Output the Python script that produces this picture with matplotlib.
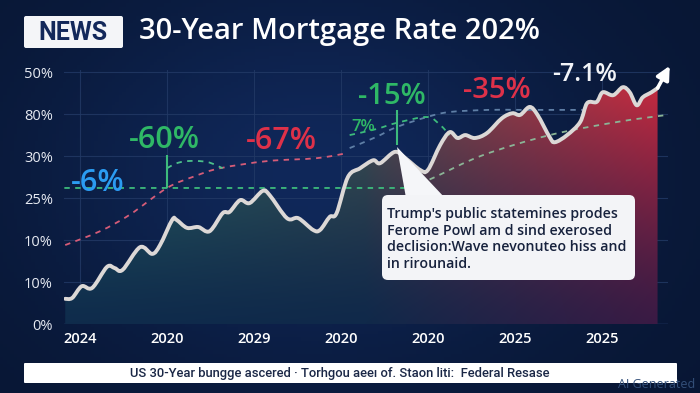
#!/usr/bin/env python3
"""30-year mortgage rate news graphic: wavy rate line with gradient fill."""

import matplotlib

matplotlib.use("Agg")
import matplotlib.pyplot as plt
import numpy as np
from matplotlib.colors import to_rgb
from matplotlib.patches import FancyBboxPatch, PathPatch, Polygon
from matplotlib.path import Path

plt.rcParams["font.family"] = ["Open Sans", "DejaVu Sans"]

# --- data -------------------------------------------------------------------
X_TICK_LABELS = ["2024", "2020", "2029", "2020", "2020", "2025", "2025"]
Y_TICK_LABELS = ["0%", "10%", "10%", "25%", "30%", "80%", "50%"]

# main rate line (x in tick units, y in gridline units)
RATE_X = [-0.17, -0.09, 0.02, 0.14, 0.31, 0.40, 0.49, 0.69, 0.83, 0.92,
          1.06, 1.11, 1.23, 1.36, 1.49, 1.64, 1.72, 1.84, 1.95, 2.10,
          2.18, 2.38, 2.51, 2.68, 2.76, 2.87, 2.95, 3.08, 3.22, 3.37,
          3.45, 3.62, 3.74, 3.91, 4.00, 4.14, 4.25, 4.34, 4.43, 4.54,
          4.68, 4.85, 4.97, 5.06, 5.17, 5.26, 5.40, 5.46, 5.60, 5.75,
          5.83, 5.94, 6.01, 6.13, 6.24, 6.32, 6.40, 6.47, 6.57, 6.64]
RATE_Y = [0.60, 0.62, 0.90, 0.86, 1.36, 1.33, 1.29, 1.83, 1.67, 1.88,
          2.48, 2.48, 2.29, 2.31, 2.21, 2.64, 2.67, 2.95, 2.88, 3.17,
          3.07, 2.52, 2.52, 2.24, 2.24, 2.55, 2.64, 3.50, 3.71, 3.90,
          3.83, 4.10, 3.95, 3.67, 3.67, 4.26, 4.57, 4.43, 4.50, 4.43,
          4.55, 4.90, 5.02, 4.98, 5.17, 4.98, 4.45, 4.33, 4.50, 4.81,
          5.26, 5.29, 5.52, 5.45, 5.64, 5.52, 5.21, 5.40, 5.52, 5.62]
ARROW_TIP = (6.78, 6.15)

# dashed guide curves
FLAT_X = [-0.18, 3.79]
FLAT_Y = [3.24, 3.24]
PINK_X = [-0.17, 0.23, 0.57, 1.00, 1.32, 1.61, 2.15, 2.72, 3.07]
PINK_Y = [1.88, 2.21, 2.60, 3.24, 3.52, 3.71, 3.88, 3.95, 4.07]
BUMP_X = [1.00, 1.10, 1.23, 1.46, 1.64]
BUMP_Y = [3.71, 3.82, 3.88, 3.86, 3.71]
SLATE_X = [3.10, 3.40, 3.64, 3.99, 4.25, 4.70, 5.06, 5.78]
SLATE_Y = [4.19, 4.45, 4.69, 4.93, 5.05, 5.10, 5.10, 5.10]
HUMP_X = [3.10, 3.40, 3.64, 3.99, 4.14, 4.25]
HUMP_Y = [4.50, 4.64, 4.79, 4.93, 4.74, 4.50]
RISE_X = [3.79, 4.06, 4.63, 5.40, 6.17, 6.75]
RISE_Y = [3.24, 3.48, 4.02, 4.50, 4.81, 4.98]
MARK_X = [1.00, 3.64]
MARK_Y0 = [3.24, 4.26]
MARK_Y1 = [4.02, 5.10]

# change labels
LABELS = ["-6%", "-60%", "-67%", "-15%", "7%", "-35%", "-7.1%"]
LABEL_X = [0.20, 0.97, 2.32, 3.59, 3.26, 4.79, 5.80]
LABEL_Y = [3.36, 4.38, 4.36, 5.43, 4.69, 5.55, 5.95]
LABEL_COLORS = ["#2b9cf2", "#2fb866", "#de3149", "#2fb866", "#2fb866", "#de3149", "#f2f4f8"]
LABEL_SIZES = [22, 22, 22, 21, 12, 21, 18]

TITLE = "30-Year Mortgage Rate 202%"
CALLOUT = ("Trump's public statemines prodes\nFerome Powl am d sind exerosed\n"
           "declision:Wave nevonuteo hiss and\nin rirounaid.")
SOURCE = "US 30-Year bungge ascered · Torhgou aeeı of. Staon liti:  Federal Resase"

W, H = 700, 393
BG = "#0b1c40"


def lerp(c0, c1, t):
    c0, c1 = np.array(to_rgb(c0)), np.array(to_rgb(c1))
    return c0[None, None, :] * (1 - t[..., None]) + c1[None, None, :] * t[..., None]


def smooth_path(xs, ys, close_to=None):
    """Catmull-Rom style cubic Bezier path passing through every point."""
    p = np.column_stack([xs, ys]).astype(float)
    n = len(p)
    verts, codes = [tuple(p[0])], [Path.MOVETO]
    for i in range(n - 1):
        pm = p[max(i - 1, 0)]
        p2 = p[min(i + 2, n - 1)]
        c1 = p[i] + (p[i + 1] - pm) / 6
        c2 = p[i + 1] - (p2 - p[i]) / 6
        verts += [tuple(c1), tuple(c2), tuple(p[i + 1])]
        codes += [Path.CURVE4] * 3
    if close_to is not None:
        verts += [(xs[-1], close_to), (xs[0], close_to), (xs[0], close_to)]
        codes += [Path.LINETO, Path.LINETO, Path.CLOSEPOLY]
    return Path(verts, codes)


def main() -> None:
    fig = plt.figure(figsize=(W / 100, H / 100), dpi=100)
    fig.patch.set_facecolor(BG)

    # background
    bg = fig.add_axes([0, 0, 1, 1], zorder=-5)
    bx = np.linspace(0, 1, 200)[None, :]
    by = np.linspace(0, 1, 120)[:, None]
    glow = np.exp(-((bx - 0.45) ** 2 / 0.15 + (by - 0.45) ** 2 / 0.25))
    img = lerp("#081633", "#10285a", glow)
    bg.imshow(img, extent=[0, 1, 0, 1], aspect="auto")
    bg.axis("off")

    # plot area
    x0, x1 = -0.184, 6.76
    y0, y1 = 0.0, 6.05
    ax = fig.add_axes([64 / W, 69 / H, 604 / W, 254 / H])
    ax.set_facecolor("none")
    for s in ax.spines.values():
        s.set_visible(False)
    ax.set_xticks(range(len(X_TICK_LABELS)))
    ax.set_xticklabels(X_TICK_LABELS, color="white", fontsize=10.5, fontweight="semibold")
    ax.set_yticks(range(len(Y_TICK_LABELS)))
    ax.set_yticklabels(Y_TICK_LABELS, color="#e6eaf2", fontsize=10.5)
    ax.tick_params(length=0, pad=8)
    ax.tick_params(axis="x", pad=6)
    ax.grid(True, color="#233a66", linewidth=0.8, alpha=0.8)
    ax.set_axisbelow(True)
    ax.axhline(0, color="#2a4372", linewidth=1.0, zorder=1)

    # gradient fill under the line
    gx = np.linspace(0, 1, 300)[None, :]
    gy = np.linspace(0, 1, 150)[:, None]
    top_l, top_m, top_r = "#2e7c6f", "#4a5853", "#cc2a3f"
    bot_l, bot_m, bot_r = "#0f2c4c", "#10294a", "#3c1a44"
    tl = np.clip(gx / 0.5, 0, 1)
    tr = np.clip((gx - 0.5) / 0.5, 0, 1)
    top = np.where((gx < 0.5)[..., None], lerp(top_l, top_m, tl ** 1.2), lerp(top_m, top_r, tr ** 0.7))
    bot = np.where((gx < 0.5)[..., None], lerp(bot_l, bot_m, tl), lerp(bot_m, bot_r, tr))
    vt = (gy ** 1.3)[..., None]
    grad = (bot * (1 - vt) + top * vt)[::-1]
    area = PathPatch(smooth_path(RATE_X, RATE_Y, close_to=0), facecolor="none", edgecolor="none")
    ax.add_patch(area)
    im = ax.imshow(grad, extent=[x0, x1, 0, 5.8], aspect="auto", zorder=2, interpolation="bilinear")
    im.set_clip_path(area)
    ax.set_xlim(x0, x1)
    ax.set_ylim(y0, y1)

    # dashed guides
    dash = dict(linewidth=1.3, linestyle=(0, (3, 3)), zorder=3, fill=False)
    for xs, ys, col in [(FLAT_X, FLAT_Y, "#3dbb7c"), (PINK_X, PINK_Y, "#d65c78"),
                        (BUMP_X, BUMP_Y, "#4cc08a"), (SLATE_X, SLATE_Y, "#5f7fa6"),
                        (HUMP_X, HUMP_Y, "#3dbb7c"), (RISE_X, RISE_Y, "#8bb596")]:
        ax.add_patch(PathPatch(smooth_path(xs, ys), edgecolor=col, **dash))
    ax.vlines(MARK_X, MARK_Y0, MARK_Y1, color="#3dbb7c", linewidth=1.5, zorder=3)

    # rate line + arrow
    ax.add_patch(PathPatch(smooth_path(RATE_X, RATE_Y), edgecolor="#dcd8d6", facecolor="none",
                           linewidth=2.8, joinstyle="round", capstyle="round", zorder=5))
    ax.annotate("", xy=ARROW_TIP, xytext=(RATE_X[-1], RATE_Y[-1]),
                arrowprops=dict(arrowstyle="-|>,head_length=0.8,head_width=0.4",
                                color="white", lw=2.6, shrinkA=0, shrinkB=0),
                annotation_clip=False, zorder=6)

    for txt, lx, ly, c, s in zip(LABELS, LABEL_X, LABEL_Y, LABEL_COLORS, LABEL_SIZES):
        ax.text(lx, ly, txt, color=c, fontsize=s, fontweight="semibold",
                ha="center", va="center", zorder=7)

    # overlay in pixel space for title, callout, source banner
    ov = fig.add_axes([0, 0, 1, 1], zorder=10)
    ov.set_xlim(0, W)
    ov.set_ylim(H, 0)
    ov.axis("off")
    ov.patch.set_alpha(0)

    ov.add_patch(FancyBboxPatch((24, 16), 99, 32, boxstyle="round,pad=0,rounding_size=2",
                                facecolor="#f4f5f8", edgecolor="none"))
    ov.text(73, 33, "NEWS", color="#13285a", fontsize=18, fontweight="bold",
            ha="center", va="center", family=["Roboto", "DejaVu Sans"])
    ov.text(139, 32, TITLE, color="white", fontsize=21, fontweight="semibold",
            ha="left", va="center")

    ov.add_patch(Polygon([(397, 147), (406, 198), (445, 198)], closed=True,
                         facecolor="#f5f6f9", edgecolor="none"))
    ov.add_patch(FancyBboxPatch((382, 195), 253, 85, boxstyle="round,pad=0,rounding_size=6",
                                facecolor="#f3f4f7", edgecolor="none"))
    ov.text(387, 239, CALLOUT, color="#17223d", fontsize=10.2, fontweight="semibold",
            ha="left", va="center", linespacing=1.25)

    ov.add_patch(FancyBboxPatch((24, 363), 653, 20, boxstyle="round,pad=0,rounding_size=1",
                                facecolor="white", edgecolor="none"))
    ov.text(340, 373, SOURCE, color="#1a2746", fontsize=9.4, fontweight="medium",
            ha="center", va="center", family=["Roboto", "DejaVu Sans"])
    ov.text(657, 385, "AI Generated", color="#34507a", fontsize=9, ha="center", va="center")

    fig.savefig("out.png", dpi=100, facecolor=BG)


if __name__ == "__main__":
    main()
